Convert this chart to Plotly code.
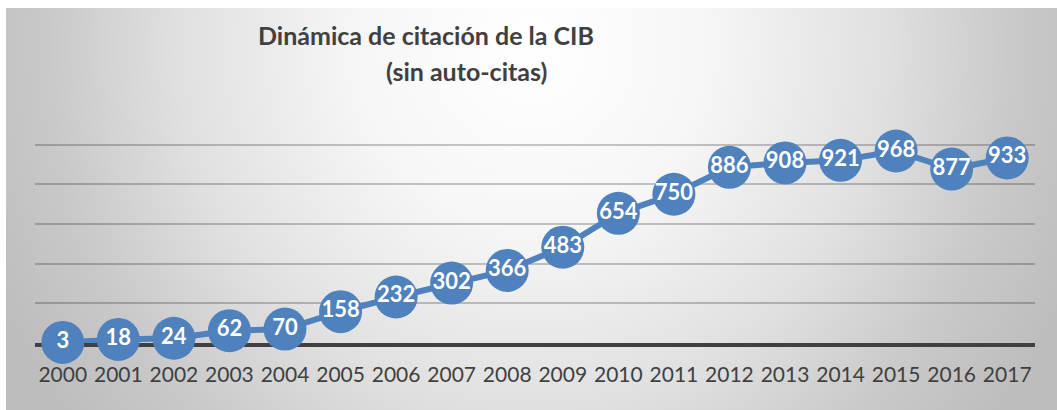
import plotly.graph_objects as go

years = [str(y) for y in range(2000, 2018)]
citations = [3, 18, 24, 62, 70, 158, 232, 302, 366, 483, 654, 750, 886, 908, 921, 968, 877, 933]
grid_values = [0, 200, 400, 600, 800, 1000]
title_line1 = "Dinámica de citación de la CIB"
title_line2 = "(sin auto-citas)"

W, H = 1057, 410
BLUE = "#4f81bd"
DARK = "#404040"
FONT = "Lato"

fig = go.Figure()

# background radial gradient (first subplot, hidden axes)
fig.add_trace(go.Scatter(
    x=[-0.06, 1.06, 1.06, -0.06, -0.06], y=[-0.6, -0.6, 2.4, 2.4, -0.6],
    mode="lines", line=dict(width=0), fill="toself",
    fillgradient=dict(type="radial", colorscale=[
        [0, "#ffffff"], [0.3, "#f6f6f6"], [0.6, "#e0e0e0"], [0.82, "#c9c9c9"], [1, "#bdbdbd"]]),
    hoverinfo="skip", showlegend=False, xaxis="x", yaxis="y"))

# data
fig.add_trace(go.Scatter(
    x=years, y=citations, mode="lines+markers+text",
    line=dict(color=BLUE, width=6),
    marker=dict(size=43, color=BLUE, line=dict(width=0)),
    text=[str(v) for v in citations], textposition="middle center",
    textfont=dict(family=FONT, size=22, color="white", weight="bold"),
    cliponaxis=False, showlegend=False, xaxis="x2", yaxis="y2"))

fig.update_layout(
    width=W, height=H, margin=dict(l=0, r=0, t=0, b=0),
    paper_bgcolor="white", plot_bgcolor="rgba(0,0,0,0)",
    xaxis=dict(domain=[6 / W, 1], range=[0, 1], visible=False, fixedrange=True),
    yaxis=dict(domain=[0, 1 - 8 / H], range=[0, 1], visible=False, fixedrange=True),
    xaxis2=dict(domain=[35 / W, 1035 / W], anchor="y2", type="category", range=[-0.5, 17.5],
                showgrid=False, showline=True, linecolor=DARK, linewidth=4, layer="below traces",
                ticks="outside", ticklen=10, tickcolor="rgba(0,0,0,0)",
                tickfont=dict(family=FONT, size=21, color=DARK), zeroline=False),
    yaxis2=dict(domain=[(H - 343) / H, (H - 105) / H], anchor="x2", range=[0, 1200],
                tickvals=grid_values, showticklabels=False, showgrid=True,
                gridcolor="rgba(0,0,0,0.22)", gridwidth=1.5, zeroline=False, showline=False),
    shapes=[dict(type="line", xref="x2 domain", yref="y2", x0=0, x1=1, y0=1200, y1=1200,
                 line=dict(color="rgba(0,0,0,0.08)", width=1.5), layer="below")],
    annotations=[
        dict(text=f"<b>{title_line1}</b>", xref="paper", yref="paper", x=426 / W, y=1 - 35 / H,
             xanchor="center", yanchor="middle", showarrow=False,
             font=dict(family=FONT, size=25, color=DARK)),
        dict(text=f"<b>{title_line2}</b>", xref="paper", yref="paper", x=466 / W, y=1 - 71 / H,
             xanchor="center", yanchor="middle", showarrow=False,
             font=dict(family=FONT, size=25, color=DARK)),
    ],
)

fig.write_html("out.html")
